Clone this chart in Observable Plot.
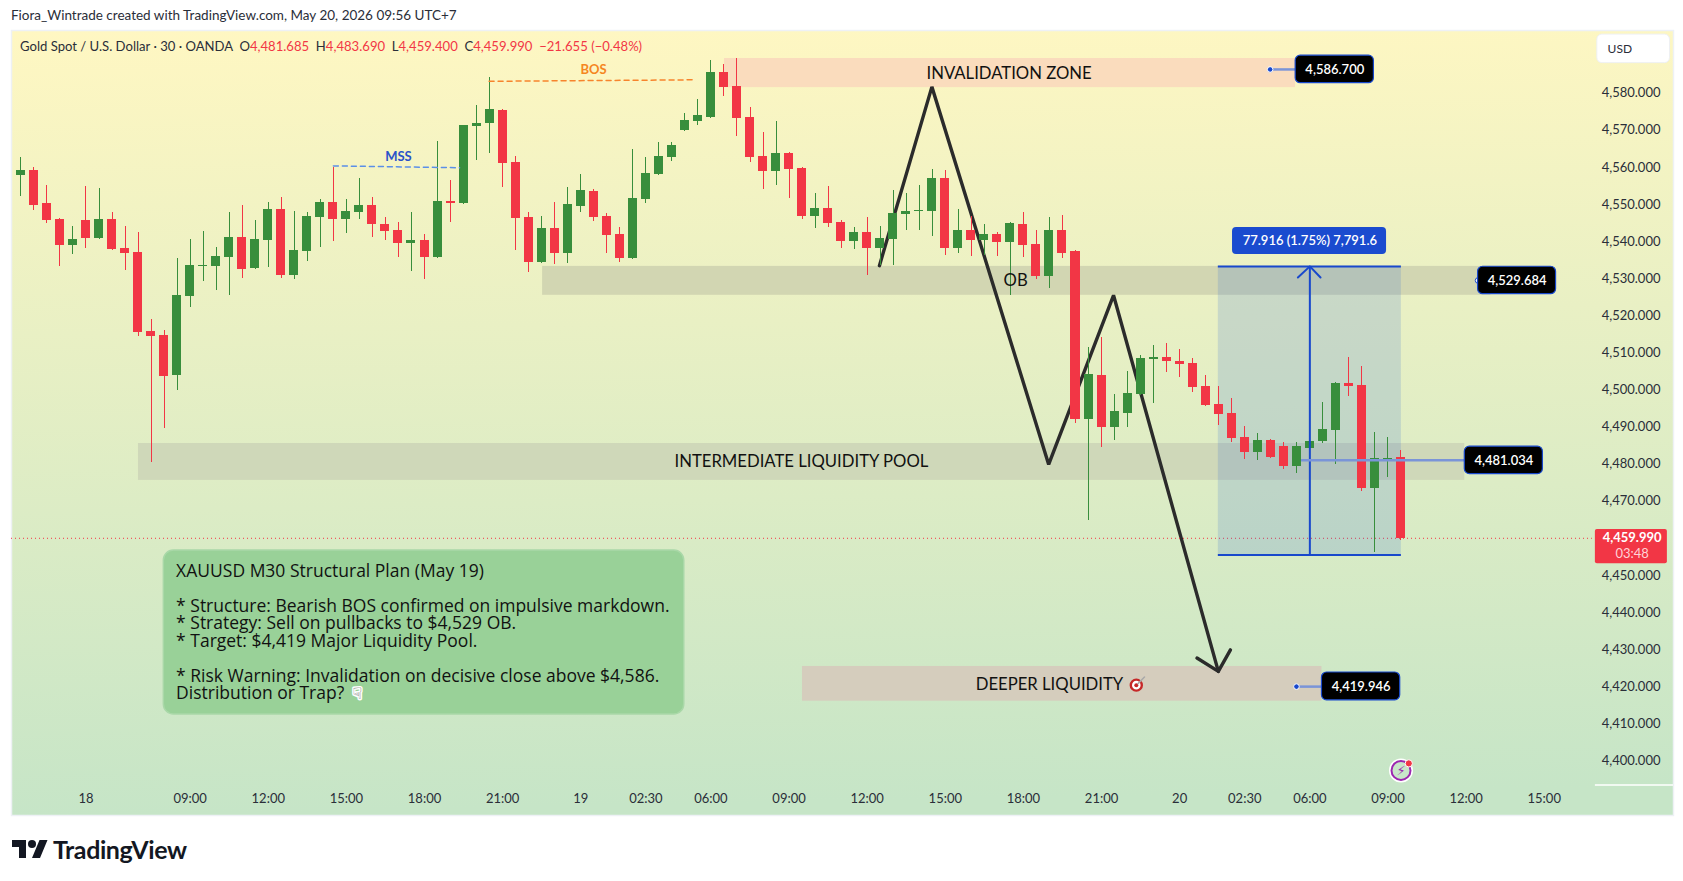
<!DOCTYPE html>
<html>
<head>
<meta charset="utf-8">
<script src="https://cdn.jsdelivr.net/npm/d3@7"></script>
<script src="https://cdn.jsdelivr.net/npm/@observablehq/plot@0.6"></script>
<style>
html,body{margin:0;padding:0;background:#fff;width:1683px;height:881px;overflow:hidden}
#chart{position:absolute;left:0;top:0}
.ov{position:absolute;white-space:pre;font-family:Lato,"Noto Sans",sans-serif}
</style>
</head>
<body>
<div id="chart"></div>
<div class="ov" style="left:11px;top:7px;font-size:13.5px;color:#2a2e39">Fiora_Wintrade created with TradingView.com, May 20, 2026 09:56 UTC+7</div>
<div class="ov" style="left:20px;top:38px;font-size:13.1px;color:#2a2e39">Gold Spot / U.S. Dollar · 30 · OANDA  O<span style="color:#f23645">4,481.685</span>  H<span style="color:#f23645">4,483.690</span>  L<span style="color:#f23645">4,459.400</span>  C<span style="color:#f23645">4,459.990</span>  <span style="color:#f23645">−21.655 (−0.48%)</span></div>
<svg style="position:absolute;left:12px;top:838px" width="36" height="24" viewBox="0 2 36 24"><path fill="#131722" d="M14 22H7V11H0V4h14v18zM28 22h-8l7.5-18h8L28 22z"/><circle fill="#131722" cx="20" cy="8" r="4"/></svg>
<div class="ov" style="left:53px;top:834px;font-size:25px;font-weight:700;color:#131722;letter-spacing:-0.4px">TradingView</div>
<script>
const opens=[4557.8,4559.2,4550.2,4545.9,4538.9,4545.7,4540.8,4545.9,4538.1,4537.0,4515.7,4514.7,4503.9,4525.2,4533.3,4533.3,4535.7,4541.1,4532.7,4540.3,4548.6,4530.8,4537.3,4546.5,4550.5,4545.9,4547.8,4549.7,4544.6,4543.0,4539.5,4540.3,4535.7,4550.8,4550.2,4571.0,4571.8,4575.3,4561.3,4546.5,4534.3,4543.5,4536.8,4549.4,4553.5,4546.7,4541.9,4535.4,4551.3,4558.1,4562.6,4569.9,4572.4,4573.4,4585.6,4581.8,4573.4,4562.9,4558.9,4563.7,4559.7,4546.7,4548.9,4545.1,4540.0,4542.4,4538.1,4540.5,4547.3,4548.1,4548.1,4557.0,4538.1,4543.0,4540.3,4541.9,4539.7,4544.6,4539.2,4530.6,4543.0,4537.3,4492.0,4503.9,4489.9,4493.6,4498.8,4508.2,4508.7,4507.7,4507.1,4500.9,4496.1,4493.6,4487.2,4483.1,4486.4,4484.7,4479.3,4484.2,4486.1,4489.0,4501.7,4501.2,4473.4,4481.2,4481.685];
const highs=[4562.6,4559.9,4555.1,4546.2,4544.0,4554.8,4554.3,4547.8,4544.0,4542.4,4519.0,4516.0,4535.4,4540.5,4542.7,4538.4,4547.8,4549.7,4545.7,4550.5,4551.9,4548.1,4547.8,4551.3,4560.0,4551.3,4557.0,4551.9,4546.5,4545.1,4547.8,4541.9,4567.0,4556.5,4571.3,4576.7,4584.2,4575.5,4562.9,4547.8,4546.7,4550.5,4554.6,4558.1,4554.0,4547.6,4543.8,4564.8,4562.6,4566.7,4566.7,4574.5,4578.3,4588.8,4587.7,4589.3,4576.1,4569.4,4572.4,4563.9,4559.9,4552.9,4554.8,4545.7,4543.8,4546.5,4544.0,4553.8,4552.9,4555.1,4559.4,4559.2,4548.6,4546.7,4544.6,4542.4,4545.1,4547.8,4543.0,4546.5,4547.0,4537.6,4511.4,4514.1,4498.8,4505.0,4509.3,4512.0,4512.5,4510.9,4508.5,4503.9,4500.9,4497.7,4490.1,4488.2,4486.6,4485.8,4485.8,4488.8,4496.6,4502.0,4508.7,4506.3,4488.5,4487.2,4483.69];
const lows=[4552.1,4548.4,4544.9,4533.3,4536.5,4538.1,4540.6,4537.7,4532.2,4514.4,4480.5,4489.7,4499.8,4522.3,4529.2,4526.8,4525.4,4530.0,4532.5,4533.0,4530.0,4529.8,4534.6,4538.4,4540.0,4542.2,4545.9,4541.1,4540.3,4535.7,4531.9,4529.8,4535.5,4545.1,4550.0,4561.8,4563.7,4554.6,4537.6,4531.6,4534.1,4533.8,4534.1,4547.8,4545.4,4536.8,4534.3,4535.2,4550.2,4557.8,4561.6,4569.7,4571.3,4573.2,4579.1,4568.3,4561.3,4554.0,4555.1,4551.6,4545.9,4543.5,4543.8,4538.1,4537.9,4530.8,4533.5,4533.5,4543.0,4543.0,4541.4,4536.2,4536.8,4536.0,4536.2,4536.0,4525.4,4535.7,4529.8,4527.3,4535.4,4490.9,4464.8,4484.5,4486.4,4489.9,4498.6,4496.3,4504.7,4503.3,4499.3,4495.5,4490.4,4485.8,4481.2,4481.0,4481.6,4478.5,4477.5,4479.9,4485.5,4479.9,4498.2,4472.6,4456.2,4476.4,4459.4];
const closes=[4559.2,4549.7,4545.7,4538.9,4540.5,4540.8,4545.9,4537.9,4536.8,4515.5,4514.4,4503.6,4525.4,4533.5,4533.5,4536.0,4541.1,4532.5,4540.5,4548.6,4530.8,4537.6,4546.7,4550.5,4545.9,4548.1,4549.7,4544.6,4542.7,4539.5,4540.3,4535.7,4550.8,4550.2,4571.3,4571.8,4575.6,4561.0,4546.2,4534.3,4543.5,4536.8,4550.0,4553.8,4546.5,4541.6,4535.4,4551.6,4558.3,4562.9,4565.9,4572.6,4574.0,4585.6,4581.5,4573.2,4562.6,4558.9,4563.7,4559.4,4546.7,4548.9,4544.9,4540.0,4542.4,4538.1,4540.8,4547.6,4548.1,4548.4,4557.0,4538.1,4543.0,4540.3,4541.9,4539.7,4544.9,4538.9,4530.6,4543.0,4536.8,4492.0,4504.2,4489.9,4494.2,4499.0,4508.5,4508.7,4507.7,4506.8,4500.6,4495.8,4493.4,4486.9,4483.1,4486.4,4481.8,4479.3,4484.7,4486.1,4489.3,4501.7,4500.9,4473.4,4481.5,4481.5,4459.99];

const priceTicks=[4400,4410,4420,4430,4440,4450,4470,4480,4490,4500,4510,4520,4530,4540,4550,4560,4570,4580];
const timeTicks=[5,13,19,25,31,37,43,48,53,59,65,71,77,83,89,94,99,105,111,117];
const timeLabels=["18","09:00","12:00","15:00","18:00","21:00","19","02:30","06:00","09:00","12:00","15:00","18:00","21:00","20","02:30","06:00","09:00","12:00","15:00"];

const zones=[
 {i1:54.04,i2:97.9,p1:4589.35,p2:4581.5,fill:"#fadcbd"},
 {i1:40.07,i2:112.9,p1:4533.3,p2:4525.5,fill:"#d2d6b2"},
 {i1:9.03,i2:110.9,p1:4485.55,p2:4475.6,fill:"#cfd8b9"},
 {i1:60.03,i2:99.93,p1:4425.43,p2:4416.07,fill:"#d5cdbd"}
];
const zoneLabels=[
 {i:75.9,p:4585.3,t:"INVALIDATION ZONE"},
 {i:76.4,p:4529.4,t:"OB"},
 {i:59.95,p:4480.6,t:"INTERMEDIATE LIQUIDITY POOL"},
 {i:79,p:4420.4,t:"DEEPER LIQUIDITY"}
];
const zigzag=[{i:65.94,p:4533.5},{i:69.97,p:4581.7},{i:78.94,p:4479.9},{i:83.92,p:4525.5},{i:91.97,p:4424.1}];
const zigHead=[{i:90.33,p:4427.7},{i:91.97,p:4424.1},{i:92.9,p:4429.9}];
const mss=[{i:24,p:4560.4},{i:33.69,p:4559.9}];
const bos=[{i:35.96,p:4583.2},{i:51.58,p:4583.6}];
const measureBox={i1:91.97,i2:106.03,pTop:4533.3,pBot:4455.5,iMid:99};
const measureHead=[{i:98.08,p:4530.3},{i:99,p:4533.3},{i:99.82,p:4530.3}];
const priceTags=[
 {i1:97.91,i2:103.92,p1:4590.1,p2:4582.7,pc:4586.4,stem:95.95,t:"4,586.700"},
 {i1:111.92,i2:117.91,p1:4533.2,p2:4525.8,pc:4529.5,stem:111.92,t:"4,529.684"},
 {i1:110.9,i2:116.9,p1:4484.7,p2:4477.3,pc:4481.0,stem:98.36,t:"4,481.034"},
 {i1:99.93,i2:105.94,p1:4423.8,p2:4416.3,pc:4420.0,stem:97.97,t:"4,419.946"}
];
const noteLines=["XAUUSD M30 Structural Plan (May 19)","","* Structure: Bearish BOS confirmed on impulsive markdown.","* Strategy: Sell on pullbacks to $4,529 OB.","* Target: $4,419 Major Liquidity Pool.","","* Risk Warning: Invalidation on decisive close above $4,586.","Distribution or Trap?"];

const candles=opens.map((o,i)=>({i,o,h:highs[i],l:lows[i],c:closes[i],up:closes[i]>=o}));
const GREEN="#388e3c",RED="#f23645",BLUE="#1848cc",FONT='Lato,"Noto Sans",sans-serif';
const col=d=>d.up?GREEN:RED;

const defs=()=>{
 const s=d3.create("svg:defs");
 const g=s.append("linearGradient").attr("id","bg").attr("x1",0).attr("y1",0).attr("x2",0.04).attr("y2",1);
 g.append("stop").attr("offset","0%").attr("stop-color","#fff7c2");
 g.append("stop").attr("offset","100%").attr("stop-color","#c6e5c7");
 return s.node();
};

const chart=Plot.plot({
 width:1683,height:881,
 marginLeft:11,marginRight:10,marginTop:30,marginBottom:66,
 style:{background:"transparent",fontFamily:FONT},
 x:{type:"linear",domain:[-0.722,126.93]},
 y:{type:"linear",domain:[4385.25,4596.9]},
 marks:[
  defs,
  Plot.frame({fill:"url(#bg)",stroke:"#eef1f5",strokeWidth:1.5}),
  Plot.rect(zones,{x1:"i1",x2:"i2",y1:"p1",y2:"p2",fill:"fill"}),
  Plot.line(zigzag,{x:"i",y:"p",stroke:"#2b2b2b",strokeWidth:3.4,strokeLinejoin:"miter"}),
  Plot.line(zigHead,{x:"i",y:"p",stroke:"#2b2b2b",strokeWidth:3.4}),
  Plot.ruleY([closes[closes.length-1]],{x1:-0.722,x2:120.7,stroke:RED,strokeDasharray:"1,3",strokeWidth:1}),
  Plot.rect([measureBox],{x1:"i1",x2:"i2",y1:"pTop",y2:"pBot",fill:"#2962d8",fillOpacity:0.17}),
  Plot.ruleX(candles,{x:"i",y1:"l",y2:"h",stroke:col,strokeWidth:1,shapeRendering:"crispEdges"}),
  Plot.rect(candles,{x1:d=>d.i-0.346,x2:d=>d.i+0.346,y1:"o",y2:"c",fill:col,shapeRendering:"crispEdges"}),
  Plot.ruleY([measureBox.pTop,measureBox.pBot],{x1:measureBox.i1,x2:measureBox.i2,stroke:BLUE,strokeWidth:2}),
  Plot.ruleX([measureBox.iMid],{y1:measureBox.pBot,y2:measureBox.pTop,stroke:BLUE,strokeWidth:2}),
  Plot.line(measureHead,{x:"i",y:"p",stroke:BLUE,strokeWidth:2}),
  Plot.rect([{}],{x1:93.06,x2:104.89,y1:4543.8,y2:4536.5,fill:"#1a4bcf",rx:4}),
  Plot.text(["77.916 (1.75%) 7,791.6"],{x:99,y:4540.1,fontSize:13,fontWeight:600,fill:"#fff"}),
  Plot.line(mss,{x:"i",y:"p",stroke:"#5b8fe8",strokeWidth:1.5,strokeDasharray:"5,4"}),
  Plot.text(["MSS"],{x:29,y:4562.9,fontSize:13,fontWeight:700,fill:"#2a52c9"}),
  Plot.line(bos,{x:"i",y:"p",stroke:"#f7842c",strokeWidth:1.5,strokeDasharray:"5,4"}),
  Plot.text(["BOS"],{x:43.98,y:4586.4,fontSize:13,fontWeight:700,fill:"#f5861f"}),
  Plot.text(zoneLabels,{x:"i",y:"p",text:"t",fontSize:16.7,fill:"#111"}),
  Plot.dot([{i:85.67,p:4420.4}],{x:"i",y:"p",r:5.5,fill:"#fff",stroke:"#c62828",strokeWidth:2.4}),
  Plot.dot([{i:85.67,p:4420.4}],{x:"i",y:"p",r:2,fill:"#c62828"}),
  Plot.line([{i:85.8,p:4420.8},{i:86.3,p:4422.6}],{x:"i",y:"p",stroke:"#a9a9a9",strokeWidth:1.5}),
  Plot.rect([{}],{x1:10.98,x2:50.95,y1:4456.7,y2:4412.5,fill:"#99d198",stroke:"#a9d8a8",strokeWidth:1.5,rx:10}),
  Plot.text([noteLines.join("\n")],{x:11.92,y:4453.0,textAnchor:"start",lineAnchor:"top",fontSize:17.5,fontFamily:'"Open Sans",Lato,sans-serif',lineHeight:1,fill:"#111"}),
  Plot.text(["\u261F"],{x:25.85,y:4418.1,fontSize:16,fontFamily:"DejaVu Sans",fill:"#666",stroke:"#fff",strokeWidth:3,paintOrder:"stroke"}),
  Plot.ruleY(priceTags,{x1:"stem",x2:"i1",y:"pc",stroke:"#7a94d8",strokeWidth:2.5}),
  Plot.dot(priceTags.filter(d=>d.t!=="4,481.034"),{x:"stem",y:"pc",r:2.8,fill:d=>d.t==="4,529.684"?"#fff":BLUE,stroke:d=>d.t==="4,529.684"?BLUE:"#fff",strokeWidth:1}),
  Plot.rect(priceTags,{x1:"i1",x2:"i2",y1:"p1",y2:"p2",fill:"#000",stroke:BLUE,strokeWidth:1.2,rx:5}),
  Plot.text(priceTags,{x:d=>(d.i1+d.i2)/2,y:"pc",text:"t",fontSize:13,fontWeight:600,fill:"#fff"}),
  Plot.axisY({anchor:"right",ticks:priceTicks,tickSize:0,tickPadding:-13,textAnchor:"end",tickFormat:d3.format(",.3f"),label:null,fontSize:13,color:"#2a2e39"}),
  Plot.axisX({anchor:"bottom",ticks:timeTicks,tickSize:0,tickPadding:-22,tickFormat:i=>timeLabels[timeTicks.indexOf(i)],label:null,fontSize:13,color:"#2a2e39"}),
  Plot.ruleY([4393.5],{x1:120.93,x2:126.93,stroke:"#fff",strokeWidth:1.5}),
  Plot.rect([{}],{x1:120.93,x2:126.46,y1:4462.35,y2:4453.1,fill:RED,rx:2}),
  Plot.text(["4,459.990"],{x:123.75,y:4460,fontSize:13,fontWeight:700,fill:"#fff"}),
  Plot.text(["03:48"],{x:123.75,y:4455.9,fontSize:13,fill:"#ffd3d7"}),
  Plot.dot([{i:106,p:4397.4}],{x:"i",y:"p",r:12,fill:"#fff"}),
  Plot.dot([{i:106,p:4397.4}],{x:"i",y:"p",r:9.5,fill:"#c8e6c9",stroke:"#9c27b0",strokeWidth:2}),
  Plot.text(["\u26A1"],{x:106,y:4397.2,fontSize:13,fontWeight:700,fill:"#9c27b0",fontFamily:"DejaVu Sans"}),
  Plot.dot([{i:106.6,p:4399.3}],{x:"i",y:"p",r:3.6,fill:RED,stroke:"#fff",strokeWidth:1}),
  Plot.rect([{}],{x1:121.08,x2:126.66,y1:4595.8,y2:4588.1,fill:"#fff",stroke:"#eef0f3",rx:5}),
  Plot.text(["USD"],{x:121.87,y:4591.9,textAnchor:"start",fontSize:12,fill:"#2a2e39"})
 ]
});
document.getElementById("chart").append(chart);
</script>
</body>
</html>
